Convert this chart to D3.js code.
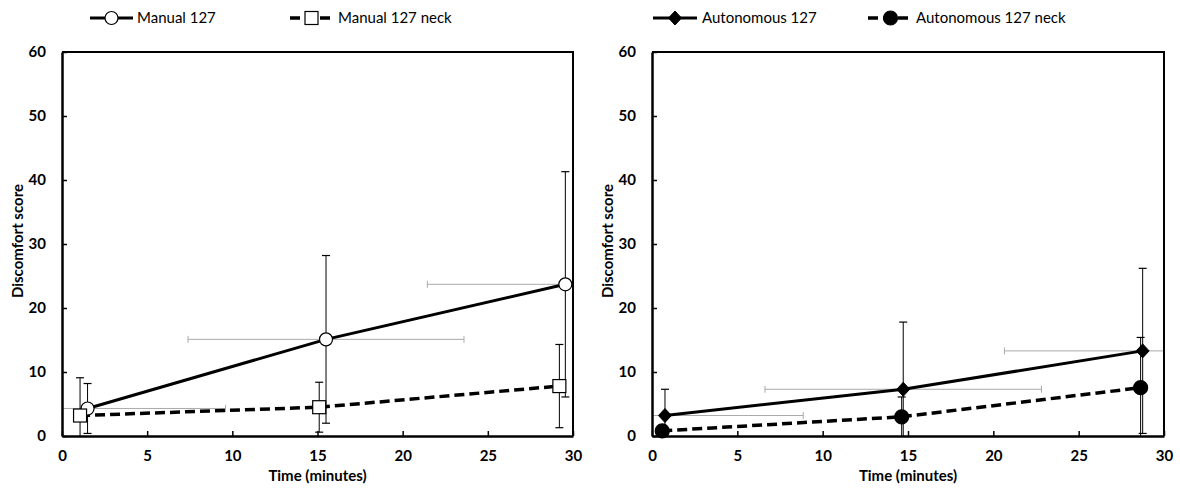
<!DOCTYPE html>
<html>
<head>
<meta charset="utf-8">
<script src="https://cdn.jsdelivr.net/npm/d3@7"></script>
<style>
  body { margin: 0; background: #fff; }
  svg { display: block; font-family: Lato, "Open Sans", sans-serif; }
  .tick-label { font-weight: bold; font-size: 15px; }
  .axis-title { font-weight: bold; font-size: 15px; }
  .legend-text { font-size: 15px; }
</style>
</head>
<body>
<svg id="chart" width="1180" height="491"></svg>
<script>
// ---- DATA ----
const xTicks = [0, 5, 10, 15, 20, 25, 30];
const yTicks = [0, 10, 20, 30, 40, 50, 60];

// manual panel
const manualTime = [1.5, 15.5, 29.55];
const manualScore = [4.3, 15.1, 23.7];
const manualErr = [3.9, 13.1, 17.6];
const manualTimeErr = [8.1, 8.1, 8.1];

const manualNeckTime = [1.06, 15.1, 29.2];
const manualNeckScore = [3.2, 4.5, 7.8];
const manualNeckErr = [5.9, 3.9, 6.5];

// autonomous panel
const autoTime = [0.76, 14.72, 28.75];
const autoScore = [3.2, 7.3, 13.3];
const autoErr = [4.1, 10.5, 12.9];
const autoTimeErr = [8.1, 8.1, 8.1];

const autoNeckTime = [0.6, 14.63, 28.63];
const autoNeckScore = [0.8, 3.0, 7.55];
const autoNeckErr = [0.9, 3.1, 7.85];

const zip = (xs, ys, es, xe) => xs.map((x, i) => ({ x, y: ys[i], e: es[i], xe: xe ? xe[i] : null }));

const panels = [
    {
        left: 62, right: 573,
        series: [
            { name: 'Manual 127', pts: zip(manualTime, manualScore, manualErr, manualTimeErr), dashed: false, marker: 'circle', fill: '#fff' },
            { name: 'Manual 127 neck', pts: zip(manualNeckTime, manualNeckScore, manualNeckErr), dashed: true, marker: 'square', fill: '#fff' }
        ],
        legend: [{ x0: 90, x1: 133, tx: 137 }, { x0: 290, x1: 333, tx: 338 }]
    },
    {
        left: 652, right: 1164,
        series: [
            { name: 'Autonomous 127', pts: zip(autoTime, autoScore, autoErr, autoTimeErr), dashed: false, marker: 'diamond', fill: '#000' },
            { name: 'Autonomous 127 neck', pts: zip(autoNeckTime, autoNeckScore, autoNeckErr), dashed: true, marker: 'dot', fill: '#000' }
        ],
        legend: [{ x0: 653, x1: 697, tx: 702 }, { x0: 868, x1: 913, tx: 916 }]
    }
];

const TOP = 52, BOTTOM = 436;
const svg = d3.select('#chart');

function drawMarker(g, type, fill, cx, cy) {
    if (type === 'circle' || type === 'dot') {
        g.append('circle').attr('cx', cx).attr('cy', cy)
            .attr('r', type === 'dot' ? 7 : 6.5)
            .attr('fill', fill).attr('stroke', '#000').attr('stroke-width', 1.2);
    } else if (type === 'square') {
        g.append('rect').attr('x', cx - 6.5).attr('y', cy - 6.5)
            .attr('width', 13).attr('height', 13)
            .attr('fill', fill).attr('stroke', '#000').attr('stroke-width', 1.2);
    } else if (type === 'diamond') {
        g.append('path')
            .attr('d', `M${cx},${cy - 7}L${cx + 6.5},${cy}L${cx},${cy + 7}L${cx - 6.5},${cy}Z`)
            .attr('fill', fill).attr('stroke', '#000').attr('stroke-width', 1);
    }
}

panels.forEach((p, pi) => {
    const x = d3.scaleLinear().domain([0, 30]).range([p.left, p.right]);
    const y = d3.scaleLinear().domain([0, 60]).range([BOTTOM, TOP]);
    const g = svg.append('g');

    const clipId = 'clip' + pi;
    svg.append('clipPath').attr('id', clipId)
        .append('rect').attr('x', p.left).attr('y', TOP)
        .attr('width', p.right - p.left).attr('height', BOTTOM - TOP);

    const plot = g.append('g').attr('clip-path', `url(#${clipId})`);

    // horizontal (time) error bars, grey
    p.series.forEach(s => {
        s.pts.filter(d => d.xe != null).forEach(d => {
            const xl = x(d.x - d.xe), xr = x(d.x + d.xe), yy = y(d.y);
            plot.append('line').attr('x1', xl).attr('x2', xr).attr('y1', yy).attr('y2', yy)
                .attr('stroke', '#aaa').attr('stroke-width', 1);
            [xl, xr].forEach(xx => plot.append('line')
                .attr('x1', xx).attr('x2', xx).attr('y1', yy - 3.5).attr('y2', yy + 3.5)
                .attr('stroke', '#aaa').attr('stroke-width', 1));
        });
    });

    // vertical error bars
    p.series.forEach(s => {
        s.pts.forEach(d => {
            const xx = x(d.x), yt = y(d.y + d.e), yb = y(d.y - d.e);
            plot.append('line').attr('x1', xx).attr('x2', xx).attr('y1', yt).attr('y2', yb)
                .attr('stroke', '#000').attr('stroke-width', 1);
            [yt, yb].forEach(yy => plot.append('line')
                .attr('x1', xx - 4).attr('x2', xx + 4).attr('y1', yy).attr('y2', yy)
                .attr('stroke', '#000').attr('stroke-width', 1.2));
        });
    });

    // series lines
    const line = d3.line().x(d => x(d.x)).y(d => y(d.y));
    p.series.forEach(s => {
        g.append('path').datum(s.pts).attr('d', line)
            .attr('fill', 'none').attr('stroke', '#000')
            .attr('stroke-width', s.dashed ? 3.5 : 3)
            .attr('stroke-dasharray', s.dashed ? '10,5' : null);
    });

    // markers
    p.series.forEach(s => {
        s.pts.forEach(d => drawMarker(g, s.marker, s.fill, x(d.x), y(d.y)));
    });

    // frame (top and right)
    g.append('path')
        .attr('d', `M${p.left},${TOP}H${p.right}V${BOTTOM}`)
        .attr('fill', 'none').attr('stroke', '#000').attr('stroke-width', 2);

    // axes
    const xAxis = g.append('g').attr('transform', `translate(0,${BOTTOM})`)
        .call(d3.axisBottom(x).tickValues(xTicks).tickSizeInner(-5).tickSizeOuter(0).tickPadding(14));
    const yAxis = g.append('g').attr('transform', `translate(${p.left},0)`)
        .call(d3.axisLeft(y).tickValues(yTicks).tickSizeInner(-5).tickSizeOuter(0).tickPadding(16));
    [xAxis, yAxis].forEach(a => {
        a.select('.domain').attr('stroke-width', 2.5);
        a.selectAll('.tick line').attr('stroke-width', 1.5);
        a.selectAll('.tick text').attr('class', 'tick-label').attr('fill', '#000').style('font-size', null).attr('font-size', null).attr('font-family', null);
    });
    xAxis.attr('font-size', null).attr('font-family', null);
    yAxis.attr('font-size', null).attr('font-family', null);

    // axis titles
    g.append('text').attr('class', 'axis-title')
        .attr('x', (p.left + p.right) / 2).attr('y', 481)
        .attr('text-anchor', 'middle').text('Time (minutes)');
    g.append('text').attr('class', 'axis-title')
        .attr('transform', `translate(${p.left - 39},${(TOP + BOTTOM) / 2 - 3}) rotate(-90)`)
        .attr('text-anchor', 'middle').text('Discomfort score');

    // legend
    p.series.forEach((s, si) => {
        const L = p.legend[si], ly = 18;
        g.append('line').attr('x1', L.x0).attr('x2', L.x1).attr('y1', ly).attr('y2', ly)
            .attr('stroke', '#000').attr('stroke-width', s.dashed ? 3.5 : 3)
            .attr('stroke-dasharray', s.dashed ? '10,5' : null);
        drawMarker(g, s.marker, s.fill, (L.x0 + L.x1) / 2, ly);
        g.append('text').attr('class', 'legend-text').attr('x', L.tx).attr('y', ly + 5).text(s.name);
    });
});
</script>
</body>
</html>
